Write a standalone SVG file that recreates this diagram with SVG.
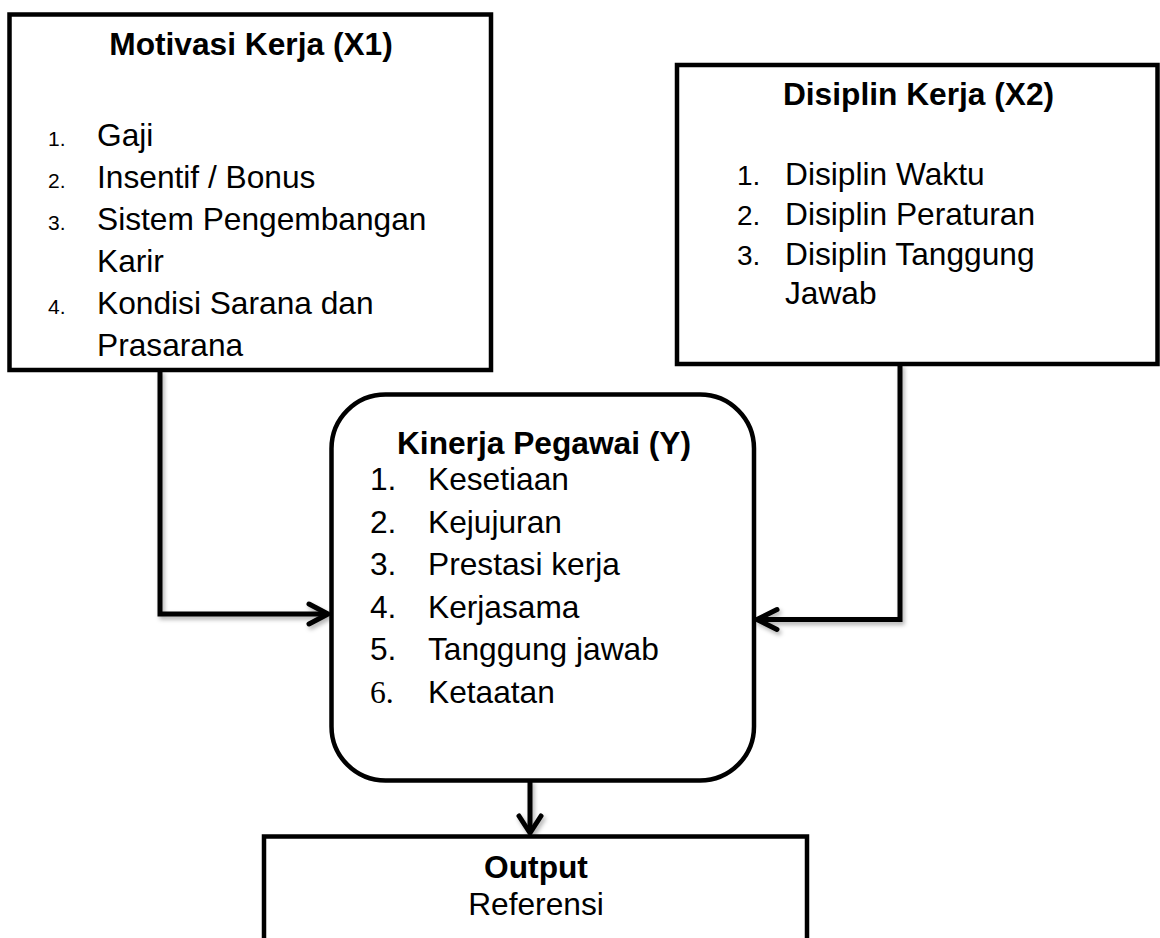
<svg xmlns="http://www.w3.org/2000/svg" width="1160" height="938" viewBox="0 0 1160 938">
<style>
  .box { fill: #fff; stroke: #000; stroke-width: 4.5; }
  .t { font-family: "Liberation Sans", Arial, sans-serif; font-size: 31.7px; fill: #000; }
  .b { font-weight: bold; }
  .mid { text-anchor: middle; }
  .n1 { font-family: "Liberation Sans", Arial, sans-serif; font-size: 21px; fill: #000; }
  .n2 { font-family: "Liberation Sans", Arial, sans-serif; font-size: 28px; fill: #000; }
  .ser { font-family: "Liberation Serif", "Times New Roman", serif; font-size: 31.7px; fill: #000; }
  .con { fill: none; stroke: #000; stroke-width: 5; stroke-linejoin: miter; }
  .head { fill: none; stroke: #000; stroke-width: 5; stroke-linecap: round; stroke-linejoin: round; }
</style>
<defs>
  <filter id="sh" x="-10%" y="-10%" width="130%" height="130%">
    <feDropShadow dx="2" dy="3" stdDeviation="2" flood-color="#000" flood-opacity="0.3"/>
  </filter>
</defs>
<rect width="1160" height="938" fill="#fff"/>

<g id="connectors" filter="url(#sh)">
  <path class="con" d="M160,370 V614 H326"/>
  <path class="head" d="M309,604 L328,614 L309,624"/>
  <path class="con" d="M900,364 V619.5 H759"/>
  <path class="head" d="M777,609.5 L757,619.5 L777,629.5"/>
  <path class="con" d="M530,780 V831"/>
  <path class="head" d="M519,816 L530,833 L541,816"/>
</g>

<g id="motivasi">
  <rect class="box" x="9.5" y="14.5" width="481.5" height="355.5"/>
  <text class="t b mid" x="251" y="55">Motivasi Kerja (X1)</text>
  <text class="n1" x="48" y="146">1.</text>
  <text class="t" x="97" y="146">Gaji</text>
  <text class="n1" x="48" y="188">2.</text>
  <text class="t" x="97" y="188">Insentif / Bonus</text>
  <text class="n1" x="48" y="230">3.</text>
  <text class="t" x="97" y="230">Sistem Pengembangan</text>
  <text class="t" x="97" y="272">Karir</text>
  <text class="n1" x="48" y="314">4.</text>
  <text class="t" x="97" y="314">Kondisi Sarana dan</text>
  <text class="t" x="97" y="356">Prasarana</text>
</g>

<g id="disiplin">
  <rect class="box" x="677" y="65" width="480.5" height="299"/>
  <text class="t b mid" x="918.5" y="105">Disiplin Kerja (X2)</text>
  <text class="n2" x="737" y="185">1.</text>
  <text class="t" x="785" y="185">Disiplin Waktu</text>
  <text class="n2" x="737" y="225">2.</text>
  <text class="t" x="785" y="225">Disiplin Peraturan</text>
  <text class="n2" x="737" y="264.5">3.</text>
  <text class="t" x="785" y="264.5">Disiplin Tanggung</text>
  <text class="t" x="785" y="303.5">Jawab</text>
</g>

<g id="kinerja">
  <rect class="box" x="331.5" y="394.5" width="422.5" height="386" rx="54" ry="54"/>
  <text class="t b mid" x="544" y="453.5">Kinerja Pegawai (Y)</text>
  <text class="t" x="370" y="490">1.</text>
  <text class="t" x="428" y="490">Kesetiaan</text>
  <text class="t" x="370" y="533">2.</text>
  <text class="t" x="428" y="533">Kejujuran</text>
  <text class="t" x="370" y="574.5">3.</text>
  <text class="t" x="428" y="574.5">Prestasi kerja</text>
  <text class="t" x="370" y="617.5">4.</text>
  <text class="t" x="428" y="617.5">Kerjasama</text>
  <text class="t" x="370" y="659.5">5.</text>
  <text class="t" x="428" y="659.5">Tanggung jawab</text>
  <text class="ser" x="370" y="703">6.</text>
  <text class="t" x="428" y="703">Ketaatan</text>
</g>

<g id="output">
  <rect class="box" x="264" y="836.5" width="543" height="130"/>
  <text class="t b mid" x="536" y="877.5">Output</text>
  <text class="t mid" x="536" y="915">Referensi</text>
</g>
</svg>
